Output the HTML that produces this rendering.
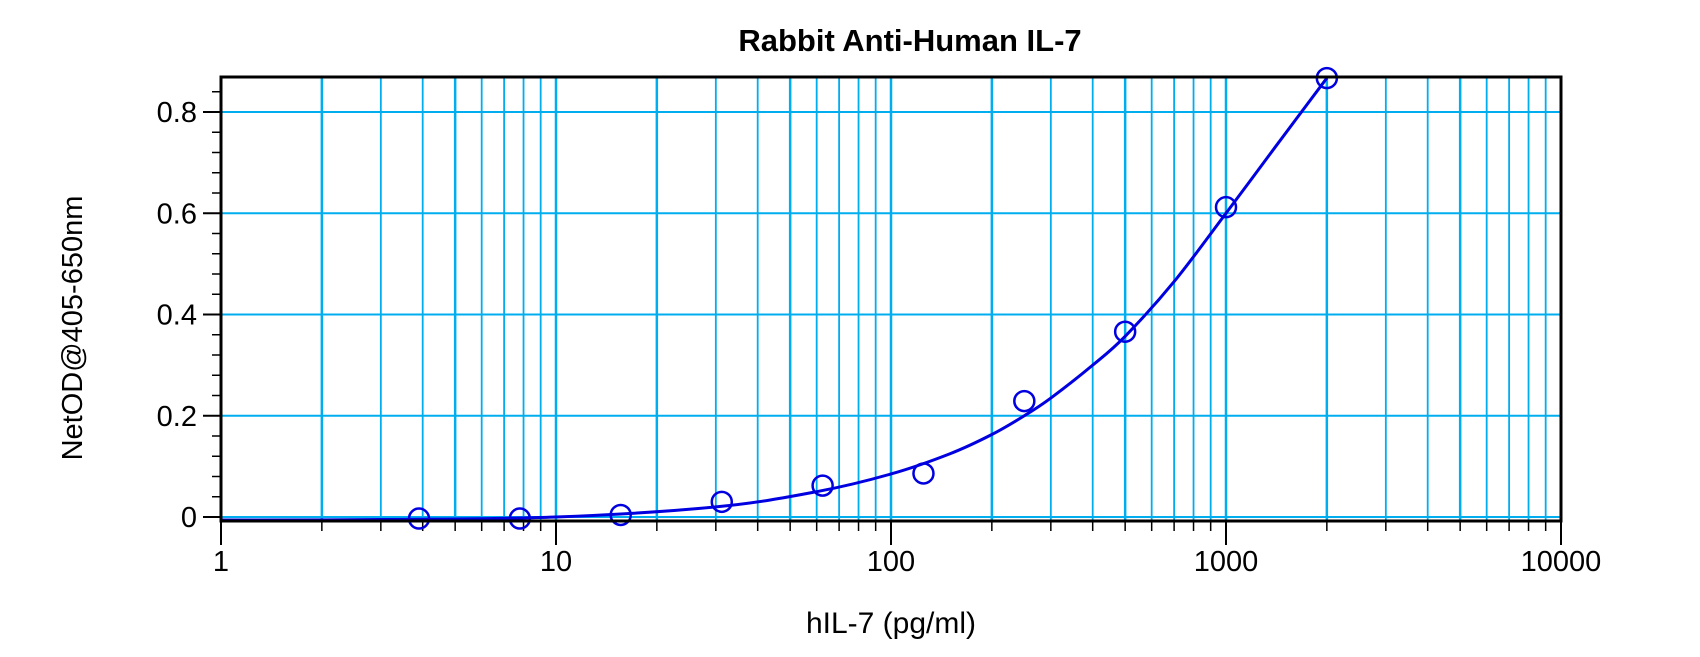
<!DOCTYPE html>
<html><head><meta charset="utf-8"><style>
html,body{margin:0;padding:0;background:#fff;}
svg{display:block;font-family:"Liberation Sans",Arial,sans-serif;}
</style></head><body>
<svg id="s" width="1700" height="657" viewBox="0 0 1700 657" xmlns="http://www.w3.org/2000/svg">
<g id="grid"></g>
<g id="ticks"></g>
<path id="curve" fill="none" stroke="#0000e0" stroke-width="3"/>
<g id="pts"></g>
<rect x="221" y="77" width="1340" height="444" fill="none" stroke="#000" stroke-width="3"/>
<text x="910" y="51" font-size="31" font-weight="bold" text-anchor="middle">Rabbit Anti-Human IL-7</text>
<text x="891" y="633" font-size="30" text-anchor="middle">hIL-7 (pg/ml)</text>
<text transform="translate(82,328) rotate(-90)" font-size="29" text-anchor="middle">NetOD@405-650nm</text>
<g id="lbl" font-size="29"></g>
</svg>
<script>
var NS="http://www.w3.org/2000/svg";
function X(v){return 221+335*Math.log10(v);}
function Y(v){return 517-506.25*v;}
function el(p,t,a){var e=document.createElementNS(NS,t);for(var k in a)e.setAttribute(k,a[k]);document.getElementById(p).appendChild(e);return e;}
for(var d=0;d<4;d++){for(var m=1;m<=10;m++){var v=Math.pow(10,d)*m;if(v==1||v>10000)continue;var x=X(v);
 if(v<10000)el("grid","line",{x1:x,x2:x,y1:78,y2:520,stroke:"#00aeef","stroke-width":(m==10||m==2||m==5)?2.5:1.8});
 var major=(m==10);el("ticks","line",{x1:x,x2:x,y1:521,y2:major?545:531,stroke:"#000","stroke-width":major?2:1.5});}}
el("ticks","line",{x1:221,x2:221,y1:521,y2:545,stroke:"#000","stroke-width":2});
[0,0.2,0.4,0.6,0.8].forEach(function(v){var y=Y(v);el("grid","line",{x1:222,x2:1560,y1:y,y2:y,stroke:"#00aeef","stroke-width":2});
 el("ticks","line",{x1:203,x2:221,y1:y,y2:y,stroke:"#000","stroke-width":2});
 var t=el("lbl","text",{x:197,y:y+10,"text-anchor":"end"});t.textContent=v==0?"0":v.toFixed(1);});
for(var i=0;i<=21;i++){var v=i*0.04;if(Math.abs(v*5-Math.round(v*5))<1e-6)continue;var y=Y(v);if(y<78)continue;
 el("ticks","line",{x1:212,x2:221,y1:y,y2:y,stroke:"#000","stroke-width":1.5});}
["1","10","100","1000","10000"].forEach(function(s,i){var t=el("lbl","text",{x:221+335*i,y:571,"text-anchor":"middle"});t.textContent=s;});
var cp=[[1,-0.006],[3,-0.005],[10,0.0],[30,0.02],[60,0.05],[100,0.085],[150,0.125],[200,0.163],[250,0.2],[300,0.235],[400,0.3],[500,0.357],[700,0.465],[1000,0.6],[1400,0.73],[2000,0.867]].map(function(p){return[X(p[0]),Y(p[1])];});
var d="M"+cp[0][0]+","+cp[0][1];
for(var i=0;i<cp.length-1;i++){var p0=cp[Math.max(0,i-1)],p1=cp[i],p2=cp[i+1],p3=cp[Math.min(cp.length-1,i+2)];
 d+=" C"+(p1[0]+(p2[0]-p0[0])/6)+","+(p1[1]+(p2[1]-p0[1])/6)+" "+(p2[0]-(p3[0]-p1[0])/6)+","+(p2[1]-(p3[1]-p1[1])/6)+" "+p2[0]+","+p2[1];}
document.getElementById("curve").setAttribute("d",d);
[[3.9,-0.003],[7.8,-0.003],[15.6,0.004],[31.25,0.03],[62.5,0.062],[125,0.086],[250,0.229],[500,0.366],[1000,0.612],[2000,0.867]].forEach(function(p){
 el("pts","circle",{cx:X(p[0]),cy:Y(p[1]),r:10,fill:"none",stroke:"#0000e0","stroke-width":2.5});});
</script>
</body></html>
